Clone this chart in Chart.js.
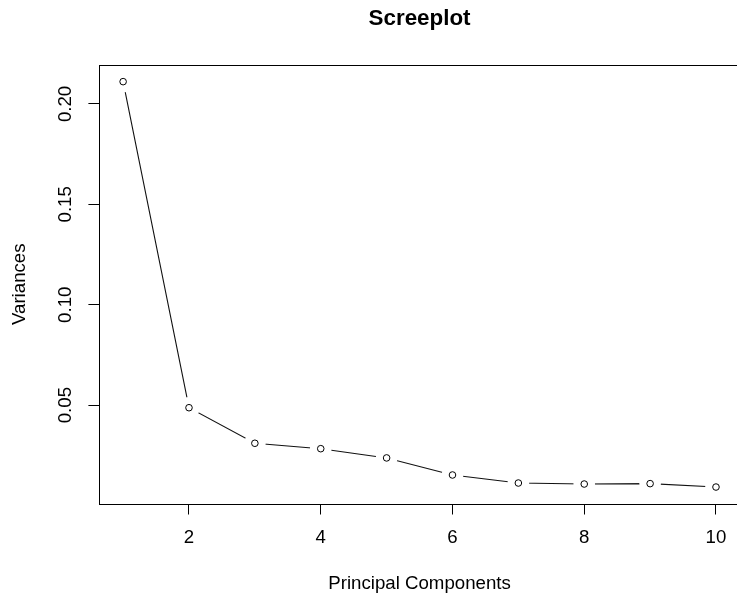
<!DOCTYPE html>
<html>
<head>
<meta charset="utf-8">
<title>Screeplot</title>
<script src="https://cdn.jsdelivr.net/npm/chart.js"></script>
<style>
  html, body { margin: 0; padding: 0; background: #fff; overflow: hidden; }
  #wrap { width: 760px; height: 602px; }
</style>
</head>
<body>
<div id="wrap"><canvas id="screeChart" width="760" height="602"></canvas></div>
<script>
// === DATI ===
const componenti = [1, 2, 3, 4, 5, 6, 7, 8, 9, 10];
const varianze = [0.2111, 0.0487, 0.0310, 0.0283, 0.0237, 0.0152, 0.0112, 0.0107, 0.0109, 0.0092];
const tickX = [2, 4, 6, 8, 10];
const tickY = [0.05, 0.10, 0.15, 0.20];

const punti = componenti.map((c, i) => ({ x: c, y: varianze[i] }));

Chart.defaults.font.family = '"Liberation Sans", Arial, Helvetica, sans-serif';
Chart.defaults.color = '#000';

// riquadro attorno all'area del grafico (stile R)
const boxPlugin = {
  id: 'boxPlugin',
  afterDatasetsDraw(chart) {
    const { ctx, chartArea: a } = chart;
    ctx.save();
    ctx.strokeStyle = '#000';
    ctx.lineWidth = 1;
    ctx.strokeRect(Math.round(a.left) + 0.5, Math.round(a.top) + 0.5,
      Math.round(a.right - a.left), Math.round(a.bottom - a.top));
    ctx.restore();
  }
};

// spazi bianchi attorno ai punti (type = "b"), dopo aver disegnato la linea
const gapPlugin = {
  id: 'gapPlugin',
  afterDatasetDraw(chart, args) {
    if (args.index !== 1) return;
    const { ctx } = chart;
    ctx.save();
    ctx.fillStyle = '#fff';
    args.meta.data.forEach(p => {
      ctx.beginPath();
      ctx.arc(p.x, p.y, 10.8, 0, Math.PI * 2);
      ctx.fill();
    });
    ctx.restore();
  }
};

const ctx = document.getElementById('screeChart').getContext('2d');
window.screeChart = new Chart(ctx, {
  type: 'scatter',
  data: {
    datasets: [
      {
        // cerchietti (sopra a tutto)
        data: punti,
        showLine: false,
        pointRadius: 3.3,
        pointBorderWidth: 1,
        pointBorderColor: '#000',
        pointBackgroundColor: '#fff',
        order: 0
      },
      {
        // linea (sotto)
        data: punti,
        showLine: true,
        borderColor: '#111',
        borderWidth: 1.1,
        tension: 0,
        pointRadius: 0,
        order: 1
      }
    ]
  },
  options: {
    responsive: false,
    animation: false,
    layout: { padding: { left: 0, right: 20.3, top: 0, bottom: 0 } },
    plugins: {
      legend: { display: false },
      tooltip: { enabled: false },
      title: {
        display: true,
        fullSize: false,
        text: 'Screeplot',
        color: '#000',
        font: { size: 22.4, weight: 'bold' },
        padding: { top: 5.3, bottom: 32.8 }
      }
    },
    scales: {
      x: {
        type: 'linear',
        position: 'bottom',
        min: 0.64,
        max: 10.36,
        afterBuildTicks: s => { s.ticks = tickX.map(v => ({ value: v })); },
        afterFit: s => { s.height = 98.5; },
        grid: { drawOnChartArea: false, drawTicks: true, tickLength: 11, color: '#000', lineWidth: 1 },
        border: { display: false },
        ticks: { font: { size: 18.67 }, padding: 12.3, maxRotation: 0, autoSkip: false, color: '#000' },
        title: { display: true, text: 'Principal Components', font: { size: 18.67 }, padding: { top: 0, bottom: 7.3 }, color: '#000' }
      },
      y: {
        type: 'linear',
        position: 'left',
        min: 0.001,
        max: 0.2194,
        afterBuildTicks: s => { s.ticks = tickY.map(v => ({ value: v })); },
        afterFit: s => { s.width = 99.4; },
        grid: { drawOnChartArea: false, drawTicks: true, tickLength: 11, color: '#000', lineWidth: 1 },
        border: { display: false },
        ticks: {
          font: { size: 18.67 },
          padding: 4.45,
          minRotation: 90,
          maxRotation: 90,
          crossAlign: 'center',
          autoSkip: false,
          color: '#000',
          callback: v => v.toFixed(2)
        },
        title: { display: true, text: 'Variances', font: { size: 18.67 }, padding: { top: 8.8, bottom: 0 }, color: '#000' }
      }
    }
  },
  plugins: [boxPlugin, gapPlugin]
});
</script>
</body>
</html>
